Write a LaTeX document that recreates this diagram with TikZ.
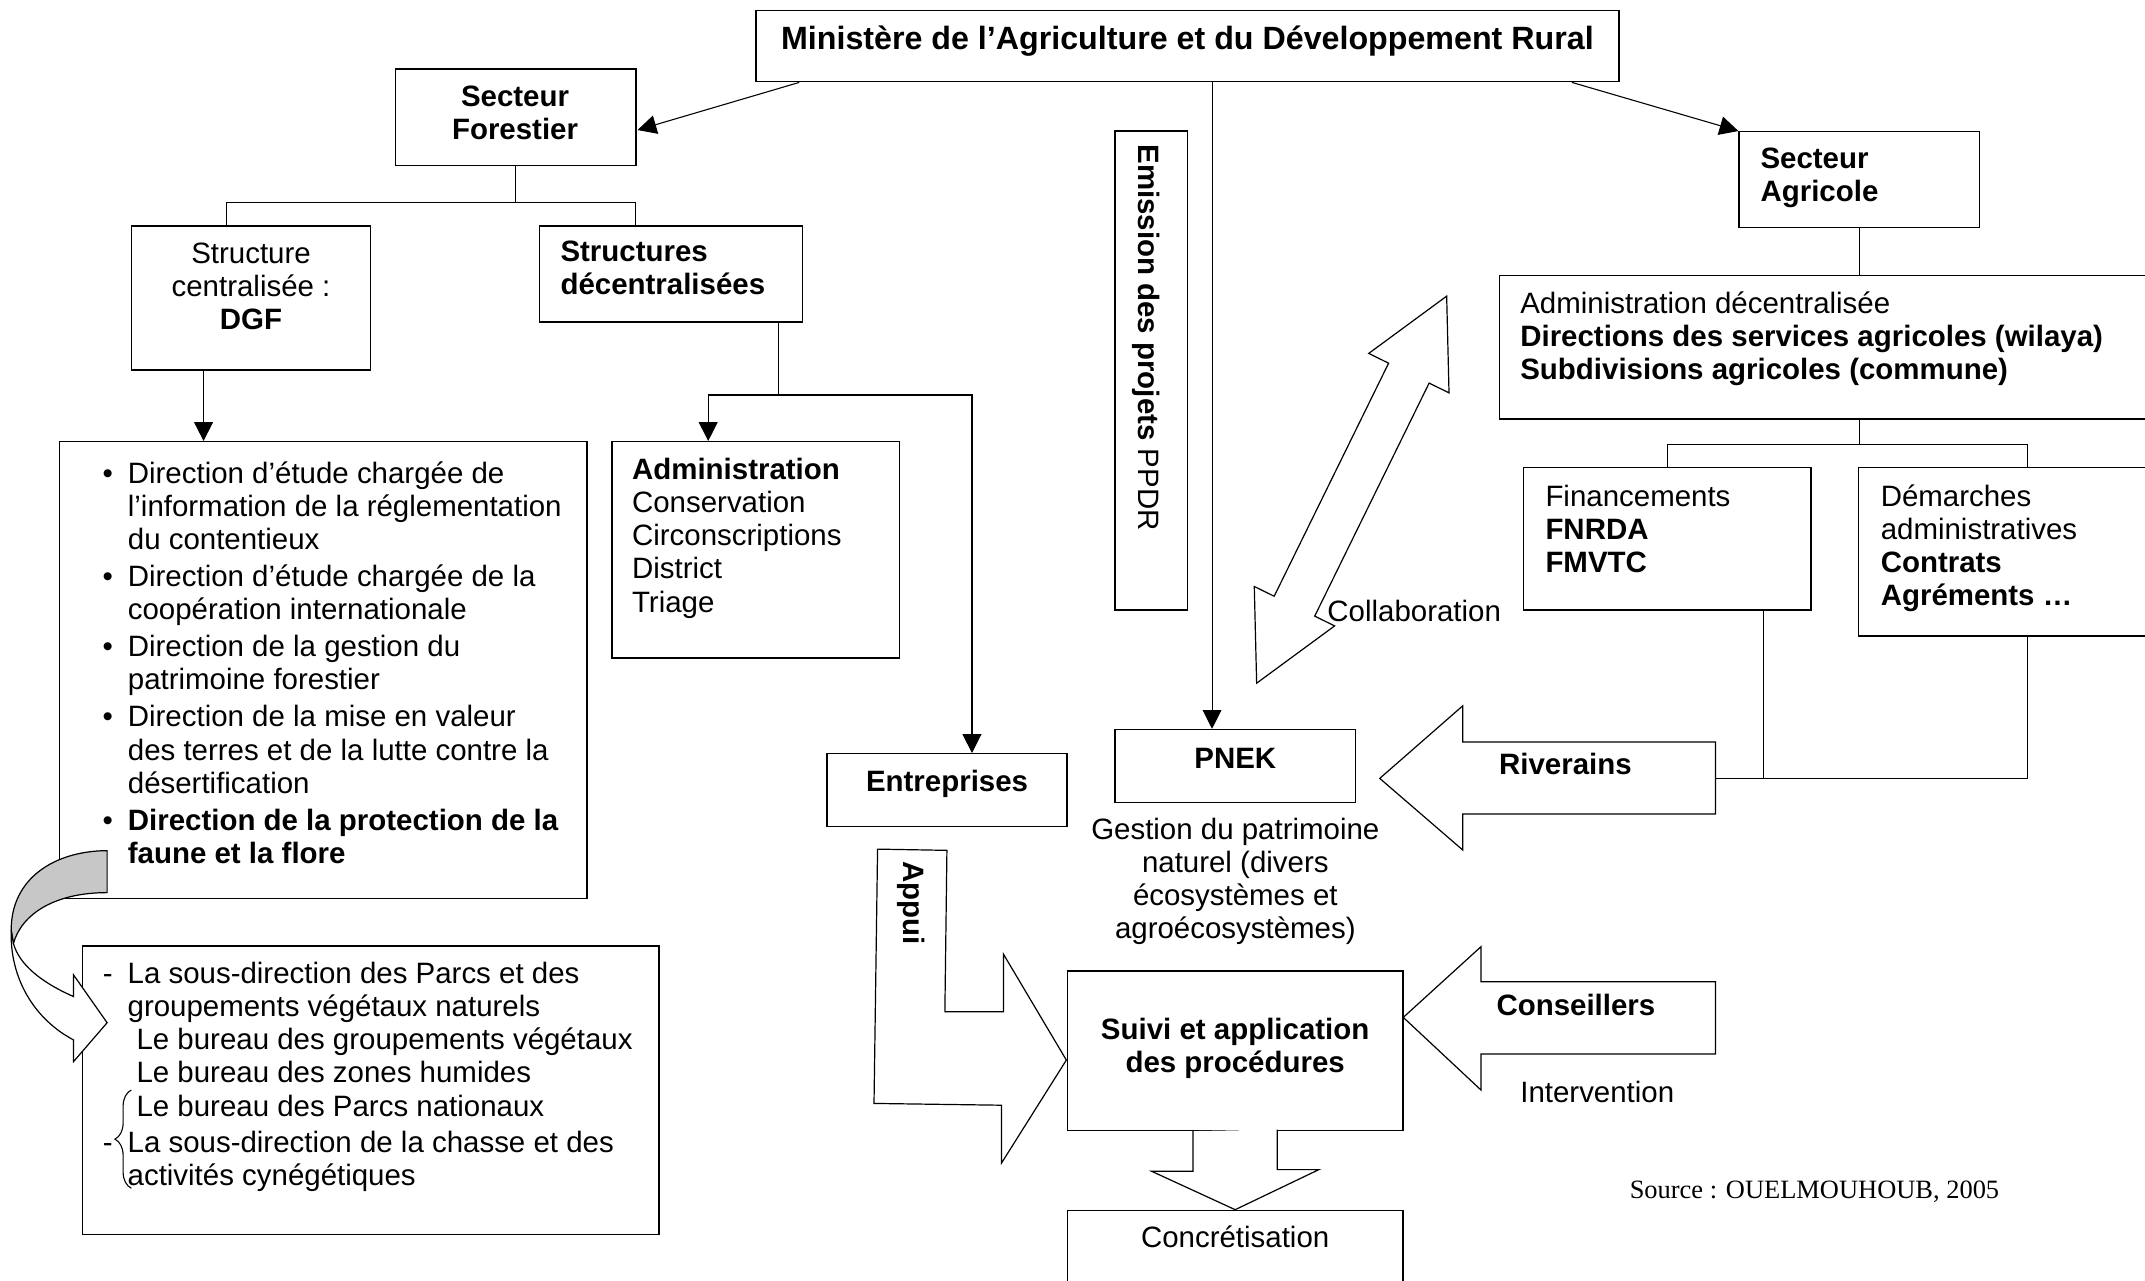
\documentclass[tikz,border=0pt]{standalone}
\usepackage{fontspec}
\setmainfont{Liberation Sans}
\newfontfamily\srcfont{Liberation Serif}
\usetikzlibrary{arrows.meta,calc,decorations.pathreplacing}
\newcommand{\leftrows}[1]{\begin{tabular}[t]{@{}l@{}}#1\end{tabular}}
\newcommand{\midrows}[1]{\begin{tabular}[t]{@{}c@{}}#1\end{tabular}}

\begin{document}
\begin{tikzpicture}[x=0.2mm, y=-0.2mm, >={Triangle[length=2.75mm, width=2.75mm]},
    font=\fontsize{12.25}{13.8}\selectfont,
    box/.style 2 args={draw, line width=0.6pt, inner sep=0pt, minimum width=#1*0.2mm, minimum height=#2*0.2mm},
    txt/.style={inner sep=0pt, anchor=base west},
    ctxt/.style={inner sep=0pt, anchor=base},
    link/.style={line width=0.45pt},
    blk/.style={draw, line width=0.5pt, fill=white}]
  \useasboundingbox (0,0) rectangle (1568,936);
  \clip (0,0) rectangle (1568,936);

  % boxes
  \node[box={631}{52.2}] (min) at (868,33.6) {};
  \node[box={175.8}{70.5}] (sf) at (376.9,85.75) {};
  \node[box={175}{105.3}] (sc) at (183.5,217.85) {};
  \node[box={192.3}{70.3}] (sd) at (490.65,200.35) {};
  \node[box={385.4}{333.8}] (dir) at (236.3,489.8) {};
  \node[box={210.3}{158.1}] (adm) at (552.45,401.95) {};
  \node[box={175.5}{53}] (ent) at (692.25,577.5) {};
  \node[box={53}{350.2}] (emi) at (841.5,270.9) {};
  \node[box={176}{53.2}] (pnek) at (903,559.9) {};
  \node[box={245.4}{116.6}] (suivi) at (902.9,768) {};
  \node[box={245.4}{65.2}] (conc) at (902.9,917.4) {};
  \node[box={421.2}{210.8}] (sous) at (271,796.9) {};
  \node[box={175.7}{70.1}] (sa) at (1359.15,131.35) {};
  \node[box={526.6}{105}] (adec) at (1359.3,253.8) {};
  \node[box={210}{104.1}] (fin) at (1218.7,393.95) {};
  \node[box={246.6}{123.1}] (dem) at (1482,403.45) {};

  % connectors
  \draw[link,->] ($(min.south west)+(32.3,0)$) -- ($(sf.east)+(0.7,9.3)$);
  \draw[link,->] ($(min.south east)+(-35,0)$) -- (sa.north west);
  \draw[link,->] ($(min.south)+(18,0)$) coordinate (m1) -- (m1 |- pnek.north);
  \draw[link] (sf.south) -- ++(0,26.4) coordinate (fbar);
  \draw[link] ($(sc.north)+(-17.8,0)$) |- (fbar) -| ($(sd.north)+(-25.9,0)$);
  \draw[link,->] ($(sc.south)+(-34.7,0)$) coordinate (c1) -- (c1 |- dir.north);
  \draw[link] ($(sd.south)+(78.75,0)$) -- ++(0,52.7) coordinate (dbar);
  \draw[link,->] (dbar) -| ($(adm.north)+(-34.75,0)$);
  \draw[link,->] (dbar) -| ($(ent.north)+(18.25,0)$);
  \draw[link] (sa.south) -- (sa.south |- adec.north);
  \draw[link] (adec.south) -- ++(0,18.3) coordinate (abar);
  \draw[link] (fin.north) |- (abar) -| (dem.north);
  \coordinate (rtail) at (1254,569);
  \draw[link] ($(fin.south)+(70.3,0)$) coordinate (f1) -- (f1 |- rtail);
  \draw[link] (dem.south) |- (rtail);

  % block arrows
  \draw[blk] (1008.6,569) -- (1069.2,516) -- (1069.2,542.4) -- (1254,542.4)
    -- (1254,595) -- (1069.2,595) -- (1069.2,621.3) -- cycle;
  \draw[blk] (1025.8,743.7) -- (1082.6,692) -- (1082.6,717.6) -- (1254,717.6)
    -- (1254,770.5) -- (1082.6,770.5) -- (1082.6,796.8) -- cycle;
  \draw[blk] (641.5,620.7) -- (692.2,621.6) -- (690.7,739.6) -- (733.6,739.6)
    -- (733.6,697.6) -- (779.5,774.9) -- (732.1,850.2) -- (732.1,807.9)
    -- (638.9,806.6) -- cycle;
  \draw[blk] ($(suivi.south)+(-30.8,0)$) -- ++(0,29.3) -- ++(-30.4,0) -- (conc.north)
    -- ++(61.2,-29.3) -- ++(-30.4,0) -- ++(0,-29.3);
  \begin{scope}[shift={(918.6,499.4)}, rotate=63.85]
    \draw[blk] (0,0) -- (62.7,32.7) -- (62.7,16.5) -- (252.5,16.5) -- (252.5,32.7)
      -- (315.2,0) -- (252.5,-32.7) -- (252.5,-16.5) -- (62.7,-16.5) -- (62.7,-32.7) -- cycle;
  \end{scope}

  % curved arrow
  \draw[line width=0.5pt, fill=black!22] (78.3,621.8) .. controls (40,622) and (8,642) .. (8.2,680)
    -- (9.8,689.6) .. controls (16,668) and (40,652.5) .. (78.3,652.5) -- cycle;
  \draw[blk] (8.2,680) .. controls (7,715) and (25,745) .. (53.8,760.2) -- (53.8,776)
    -- (78.3,747.6) -- (53.8,712.7) -- (53.8,728.5) .. controls (30,718) and (14,705) .. (9.8,689.6) -- cycle;

  % texts
  \node[ctxt, font=\fontsize{13.4}{15}\selectfont] (min-t) at (868,36.5) {\textbf{Ministère de l’Agriculture et du Développement Rural}};
  \node[ctxt] (sf-t) at (376.5,78) {\midrows{\textbf{Secteur}\\\textbf{Forestier}}};
  \node[ctxt] (sc-t) at (183.5,192.5) {\midrows{Structure\\centralisée :\\\textbf{DGF}}};
  \node[txt] (sd-t) at (409.4,191.3) {\leftrows{\textbf{Structures}\\\textbf{décentralisées}}};
  \node[txt] (dir-t) at (74.6,353.3) {\begin{tabular}[t]{@{}l@{\hspace{2.2mm}}l@{}}
    •& Direction d’étude chargée de\\
     & l’information de la réglementation\\
     & du contentieux\\[0.55mm]
    •& Direction d’étude chargée de la\\
     & coopération internationale\\[0.55mm]
    •& Direction de la gestion du\\
     & patrimoine forestier\\[0.55mm]
    •& Direction de la mise en valeur\\
     & des terres et de la lutte contre la\\
     & désertification\\[0.55mm]
    •& \textbf{Direction de la protection de la}\\
     & \textbf{faune et la flore}
  \end{tabular}};
  \node[txt] (adm-t) at (461.7,350.4) {\leftrows{\textbf{Administration}\\Conservation\\Circonscriptions\\District\\Triage}};
  \node[ctxt] (ent-t) at (692.3,578.7) {\textbf{Entreprises}};
  \node[inner sep=0pt, anchor=base west, rotate=-90] (emi-t) at (832.5,105.2) {\textbf{Emission des projets} PPDR};
  \node[ctxt] (pnek-t) at (903,561.9) {\textbf{PNEK}};
  \node[ctxt] (gest-t) at (903,613.3) {\midrows{Gestion du patrimoine\\naturel (divers\\écosystèmes et\\agroécosystèmes)}};
  \node[ctxt] (suivi-t) at (902.9,759.5) {\midrows{\textbf{Suivi et application}\\\textbf{des procédures}}};
  \node[ctxt] (conc-t) at (902.9,912.1) {Concrétisation};
  \node[txt] (sous-t) at (74.8,718.8) {\begin{tabular}[t]{@{}l@{\hspace{2.2mm}}l@{}}
    -& La sous-direction des Parcs et des\\
     & groupements végétaux naturels\\
     & \hspace{1.3mm}Le bureau des groupements végétaux\\
     & \hspace{1.3mm}Le bureau des zones humides\\
     & \hspace{1.3mm}Le bureau des Parcs nationaux\\[0.5mm]
    -& La sous-direction de la chasse et des\\
     & activités cynégétiques
  \end{tabular}};
  \draw[link, decorate, decoration={brace, amplitude=2.4mm}] (96,868.6) -- (96,796.8);
  \node[txt] (sa-t) at (1286.6,123) {\leftrows{\textbf{Secteur}\\\textbf{Agricole}}};
  \node[txt] (adec-t) at (1111,229) {\leftrows{Administration décentralisée\\\textbf{Directions des services agricoles (wilaya)}\\\textbf{Subdivisions agricoles (commune)}}};
  \node[txt] (fin-t) at (1129.4,369.9) {\leftrows{Financements\\\textbf{FNRDA}\\\textbf{FMVTC}}};
  \node[txt] (dem-t) at (1374.5,369.9) {\leftrows{Démarches\\administratives\\\textbf{Contrats}\\\textbf{Agréments …}}};
  \node[ctxt] (riv-t) at (1144.3,566.5) {\textbf{Riverains}};
  \node[txt] (coll-t) at (970,454.4) {Collaboration};
  \node[ctxt] (cons-t) at (1152,742) {\textbf{Conseillers}};
  \node[txt] (int-t) at (1111,806) {Intervention};
  \node[inner sep=0pt, anchor=base west, rotate=-90] (appui-t) at (660.5,629.4) {\textbf{Appui}};
  \node[txt, font=\srcfont\fontsize{11}{13}\selectfont] (src-t) at (1191,876) {Source : OUELMOUHOUB, 2005};
\end{tikzpicture}
\end{document}
